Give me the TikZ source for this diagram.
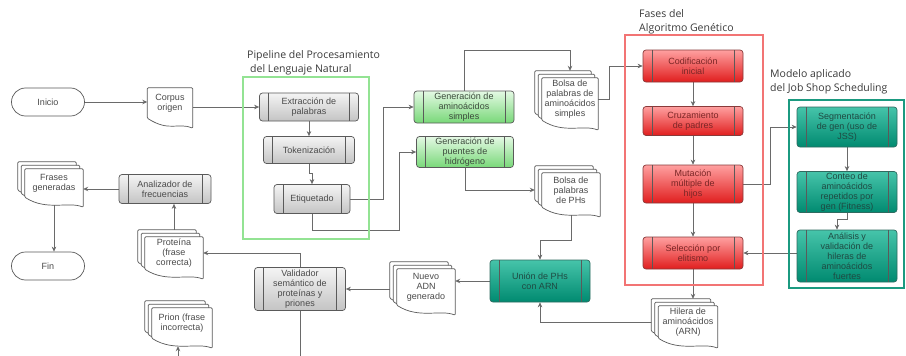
\documentclass[tikz,border=0pt]{standalone}
\usepackage{fontspec}
\setmainfont{Liberation Sans}
\newfontfamily\titlefont{Open Sans}
\usetikzlibrary{arrows.meta}
\usepackage{xcolor}
\definecolor{procline}{HTML}{5A5A5A}
\definecolor{redline}{HTML}{8A3A3A}
\definecolor{tealline}{HTML}{2E6B60}
\definecolor{greytop}{HTML}{F4F4F4}
\definecolor{greybot}{HTML}{C4C4C4}
\definecolor{greentop}{HTML}{E4F9E4}
\definecolor{greenbot}{HTML}{78D878}
\definecolor{redtop}{HTML}{FFA0A0}
\definecolor{redbot}{HTML}{E01E1E}
\definecolor{tealtop}{HTML}{46C4AA}
\definecolor{tealbot}{HTML}{008A70}
\definecolor{greytext}{HTML}{4A4A4A}
\definecolor{greentext}{HTML}{3C4A3C}
\definecolor{redtext}{HTML}{7A2626}
\definecolor{tealtext}{HTML}{1F4A42}
\definecolor{docclr}{HTML}{5A5A5A}
\definecolor{lineclr}{HTML}{6A6A6A}
\definecolor{pipegreen}{HTML}{93E393}
\definecolor{gared}{HTML}{F27474}
\definecolor{jssteal}{HTML}{1B9A80}
\definecolor{titletext}{HTML}{3A3A3A}

\pgfdeclarelayer{lines}
\pgfdeclarelayer{docs}
\pgfsetlayers{lines,docs,main}

\newcommand{\flowfont}{\fontsize{9}{10}\selectfont}
% outline of a document with a wavy bottom, moved up-left by #2 px
\newcommand{\docpath}[2]{%
  ([shift={(-#2,-#2)}]#1.south west) -- ([shift={(-#2,-#2)}]#1.north west)
  -- ([shift={(-#2,-#2)}]#1.north east) -- ([shift={(-#2,-#2+10)}]#1.south east)
  .. controls +(-15,-6) and +(22,14) .. ([shift={(-#2,-#2)}]#1.south west) -- cycle}

\begin{document}
\begin{tikzpicture}[x=1pt, y=-1pt,
  proc/.style={rectangle, rounded corners=3pt, draw=procline, line width=0.7pt,
               minimum width=100, inner sep=1pt, font=\flowfont, align=center,
               path picture={\draw[procline, line width=0.7pt]
                 ([xshift=9pt]path picture bounding box.north west) --
                 ([xshift=9pt]path picture bounding box.south west)
                 ([xshift=-9pt]path picture bounding box.north east) --
                 ([xshift=-9pt]path picture bounding box.south east);}},
  greybox/.style={proc, top color=greytop, bottom color=greybot, text=greytext},
  greenbox/.style={proc, top color=greentop, bottom color=greenbot, text=greentext},
  redbox/.style={proc, draw=redline, top color=redtop, bottom color=redbot, text=redtext},
  tealbox/.style={proc, draw=tealline, top color=tealtop, bottom color=tealbot, text=tealtext},
  doc/.style={rectangle, inner sep=0pt, minimum width=58, font=\flowfont,
              align=center, text=greytext},
  docline/.style={draw=docclr, fill=white, line width=0.7pt, rounded corners=1pt},
  term/.style={rectangle, rounded corners=14pt, draw=docclr, line width=0.7pt,
               minimum width=73, minimum height=28, font=\flowfont, text=greytext},
  flow/.style={draw=lineclr, line width=0.7pt, -{Stealth[length=5pt, width=4.5pt]}},
  groupframe/.style={line width=2pt},
  heading/.style={anchor=north west, align=left, inner sep=0pt, text=titletext,
                  font=\titlefont\fontsize{10.5}{14}\selectfont}
]
  \useasboundingbox (0,0) rectangle (906,356);

  % group frames and their headings
  \draw[groupframe, draw=pipegreen] (243,77) rectangle (369,239);
  \draw[groupframe, draw=gared] (625,35) rectangle (763,285);
  \draw[groupframe, draw=jssteal] (789,100) rectangle (904,288);
  \node[heading] (pipetitle) at (247,50) {Pipeline del Procesamiento\\\hspace{3pt}del Lenguaje Natural};
  \node[heading] (gatitle) at (639,9) {Fases del\\Algoritmo Genético};
  \node[heading] (jsstitle) at (770,69) {Modelo aplicado\\del Job Shop Scheduling};

  % start and end
  \node[term] (inicio) at (48,102) {Inicio};
  \node[term] (fin) at (48,266) {Fin};

  % documents
  \node[doc, minimum width=45, minimum height=30] (corpus) at (170,103) {Corpus\\origen};
  \node[doc, minimum height=28] (frases) at (54,183) {Frases\\generadas};
  \node[doc, minimum height=32] (proteina) at (174,253) {Proteína\\(frase\\correcta)};
  \node[doc, minimum width=60, minimum height=30] (prion) at (182,323) {Prion (frase\\incorrecta)};
  \node[doc, minimum width=56, minimum height=42] (bolsaam) at (570,99) {Bolsa de\\palabras de\\aminoácidos\\simples};
  \node[doc, minimum height=34] (bolsaph) at (571,190) {Bolsa de\\palabras\\de PHs};
  \node[doc, minimum height=36] (nuevo) at (426,287) {Nuevo\\ADN\\generado};
  \node[doc, minimum width=59, minimum height=32] (hilera) at (688,322) {Hilera de\\aminoácidos\\(ARN)};

  % natural language pipeline
  \node[greybox, minimum width=99, minimum height=28] (extraccion) at (309,107) {Extracción de\\palabras};
  \node[greybox, minimum width=91, minimum height=27] (tokenizacion) at (309,150) {Tokenización};
  \node[greybox, minimum width=76, minimum height=29] (etiquetado) at (312,199) {Etiquetado};
  \node[greenbox, minimum height=32] (genamino) at (464,107) {Generación de\\aminoácidos\\simples};
  \node[greenbox, minimum width=97, minimum height=31] (genpuentes) at (465,152) {Generación de\\puentes de\\hidrógeno};
  \node[greybox, minimum width=92, minimum height=29] (analizador) at (165,189) {Analizador de\\frecuencias};
  \node[greybox, minimum width=91, minimum height=43] (validador) at (300,289) {Validador\\semántico de\\proteínas y\\priones};
  \node[tealbox, minimum height=42] (union) at (540,281) {Unión de PHs\\con ARN};

  % genetic algorithm
  \node[redbox, minimum height=32] (codificacion) at (693,66) {Codificación\\inicial};
  \node[redbox, minimum height=29] (cruzamiento) at (693,121) {Cruzamiento\\de padres};
  \node[redbox, minimum height=38] (mutacion) at (693,184) {Mutación\\múltiple de\\hijos};
  \node[redbox, minimum height=32] (seleccion) at (693,253) {Selección por\\elitismo};

  % job shop model
  \node[tealbox, minimum height=40] (segmentacion) at (847,127) {Segmentación\\de gen (uso de\\JSS)};
  \node[tealbox, minimum height=41] (conteo) at (847,192) {Conteo de\\aminoácidos\\repetidos por\\gen (Fitness)};
  \node[tealbox, minimum height=52] (analisis) at (847,256) {Análisis y\\validación de\\hileras de\\aminoácidos\\fuertes};

  \coordinate (bamtop) at ([yshift=7pt]bolsaam.north);
  \coordinate (bphleft) at ([xshift=-7pt]bolsaph.west);
  \coordinate (hiltop) at ([yshift=7pt]hilera.north);
  \coordinate (prionbot) at ([xshift=-4pt, yshift=-8pt]prion.south);

  % connectors
  \begin{pgfonlayer}{lines}
    \fill[white] (0,0) rectangle (906,356);
    \begin{scope}
      \clip (0,0) rectangle (906,356);
      \draw[flow] (inicio.east) -- (inicio.east -| corpus.west);
      \draw[flow] (corpus.east |- extraccion.west) -- (extraccion.west);
      \draw[flow] (extraccion) -- (tokenizacion);
      \draw[flow] (tokenizacion.south) -- ++(0,9) -| (etiquetado.north);
      \draw[flow] (etiquetado.east) -- ++(33,0) |- (genamino.west);
      \draw[flow] (etiquetado.south) -- ++(0,16) -- ++(87,0) |- (genpuentes.west);
      \draw[flow] (genamino.north) -- ++(0,-40) -| (bamtop);
      \draw[flow] (genpuentes.south) |- (bphleft);
      \draw[flow] (bolsaam.east) -- ++(11,0) |- (codificacion.west);
      \draw[flow] (codificacion) -- (cruzamiento);
      \draw[flow] (cruzamiento) -- (mutacion);
      \draw[flow] (mutacion) -- (seleccion);
      \draw[flow] (mutacion.east) -- ++(27,0) |- (segmentacion.west);
      \draw[flow] (segmentacion) -- (conteo);
      \draw[flow] (conteo.south) -- ++(0,6) -| ([xshift=-10pt]analisis.north);
      \draw[flow] (seleccion.east -| analisis.west) -- (seleccion.east);
      \draw[flow] (seleccion.south) -- (seleccion.south |- hiltop);
      \draw[flow] (bolsaph.south) -- ++(0,33) -| (union.north);
      \draw[flow] (hilera.west) -| (union.south);
      \draw[flow] (union.west) -- (union.west -| nuevo.east);
      \draw[flow] (validador.east -| nuevo.west) -- (validador.east);
      \draw[flow] (validador.north) |- (proteina.east);
      \draw[flow] (validador.south) -- ++(0,70) -| (prionbot);
      \draw[flow] (proteina.north) -- (proteina.north |- analizador.south);
      \draw[flow] (analizador.west) -- (analizador.west -| frases.east);
      \draw[flow] (frases.south) -- (frases.south |- fin.north);
    \end{scope}
  \end{pgfonlayer}

  % document outlines, stacked ones drawn back to front
  \begin{pgfonlayer}{docs}
    \draw[docline] \docpath{corpus}{0};
    \foreach \d in {frases, proteina, prion, bolsaam, bolsaph, nuevo, hilera}
      \foreach \s in {7, 3.5, 0}
        \draw[docline] \docpath{\d}{\s};
  \end{pgfonlayer}
\end{tikzpicture}
\end{document}
